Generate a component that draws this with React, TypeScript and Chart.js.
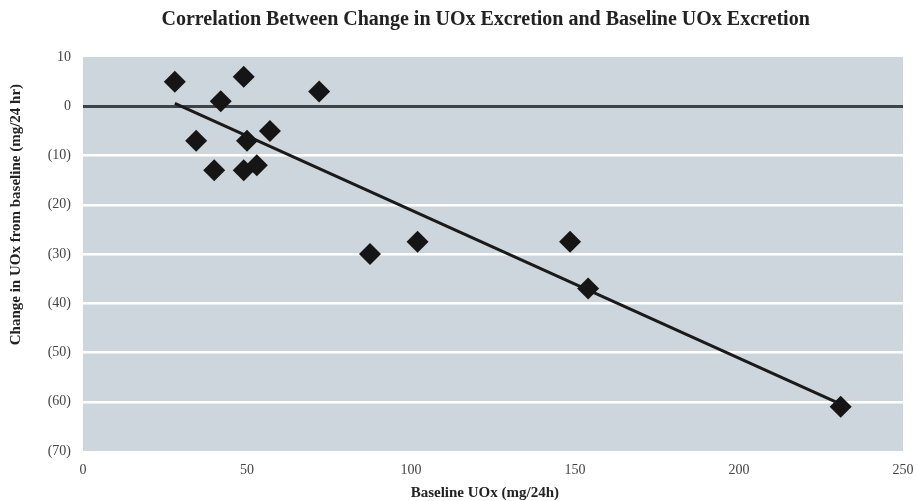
import React, { useEffect, useRef } from "react";
import { Chart, registerables } from "chart.js";

Chart.register(...registerables);

const baselineUOx = [28, 49, 42, 72, 34.5, 50, 57, 40, 49, 53, 87.5, 102, 148.5, 154, 231];
const changeUOx = [5, 6, 1, 3, -7, -7, -5, -13, -13, -12, -30, -27.5, -27.5, -37, -61];
const trendX = [28, 231];
const trendY = [0.6, -60.5];
const yTicks = [10, 0, -10, -20, -30, -40, -50, -60, -70];
const xTicks = [0, 50, 100, 150, 200, 250];

const chartTitle = "Correlation Between Change in UOx Excretion and Baseline UOx Excretion";
const xTitle = "Baseline UOx (mg/24h)";
const yTitle = "Change in UOx from baseline (mg/24 hr)";

const SERIF = "'Liberation Serif', 'Times New Roman', serif";

const bgPlugin = {
  id: "plotBg",
  beforeDraw(chart: any) {
    const { ctx, chartArea } = chart;
    ctx.save();
    ctx.fillStyle = "#cdd6dc";
    ctx.fillRect(chartArea.left, chartArea.top, chartArea.right - chartArea.left, chartArea.bottom - chartArea.top);
    ctx.restore();
  },
};

const textPlugin = {
  id: "texts",
  afterDraw(chart: any) {
    const { ctx, chartArea } = chart;
    const w = chartArea.right - chartArea.left;
    const h = chartArea.bottom - chartArea.top;
    ctx.save();
    ctx.fillStyle = "#222";
    ctx.textAlign = "center";
    ctx.textBaseline = "middle";
    ctx.font = `bold 20px ${SERIF}`;
    ctx.fillText(chartTitle, chartArea.left + w * 0.491, 20);
    ctx.font = `bold 15px ${SERIF}`;
    ctx.fillText(xTitle, chartArea.left + w * 0.49, 493);
    ctx.translate(16, chartArea.top + h * 0.40);
    ctx.rotate(-Math.PI / 2);
    ctx.font = `bold 15px ${SERIF}`;
    ctx.fillText(yTitle, 0, 0);
    ctx.restore();
  },
};

export default function App() {
  const ref = useRef<HTMLCanvasElement>(null);
  useEffect(() => {
    if (!ref.current) return;
    const chart = new Chart(ref.current, {
      type: "scatter",
      data: {
        datasets: [
          {
            type: "line",
            label: "Trend",
            data: trendX.map((x, i) => ({ x, y: trendY[i] })),
            borderColor: "#1a1a1a",
            borderWidth: 3,
            pointRadius: 0,
            fill: false,
            order: 2,
          } as any,
          {
            label: "Change",
            data: baselineUOx.map((x, i) => ({ x, y: changeUOx[i] })),
            pointStyle: "rectRot",
            pointRadius: 11,
            backgroundColor: "#151515",
            borderColor: "#151515",
            borderWidth: 0,
            order: 1,
          },
        ],
      },
      options: {
        responsive: false,
        animation: false,
        layout: { padding: { left: 0, right: 13, top: 57, bottom: 0 } },
        plugins: {
          legend: { display: false },
          tooltip: { enabled: false },
          title: { display: false },
        },
        scales: {
          x: {
            type: "linear",
            min: 0,
            max: 250,
            afterBuildTicks: (s: any) => {
              s.ticks = xTicks.map((v) => ({ value: v }));
            },
            afterFit: (s: any) => {
              s.height = 50;
              s.paddingLeft = 0;
              s.paddingRight = 0;
            },
            grid: { display: false, drawTicks: false },
            border: { display: false },
            ticks: { color: "#444", font: { family: SERIF, size: 14 }, padding: 11 },
          },
          y: {
            type: "linear",
            min: -70,
            max: 10,
            afterBuildTicks: (s: any) => {
              s.ticks = yTicks.map((v) => ({ value: v }));
            },
            afterFit: (s: any) => {
              s.width = 83;
              s.paddingTop = 0;
              s.paddingBottom = 0;
            },
            grid: {
              drawTicks: false,
              lineWidth: (c: any) => (c.tick?.value === 0 ? 3 : 2.5),
              color: (c: any) => {
                const v = c.tick?.value;
                if (v === 0) return "#3c4448";
                if (v === 10 || v === -70) return "rgba(0,0,0,0)";
                return "#ffffff";
              },
            },
            border: { display: false },
            ticks: {
              color: "#444",
              font: { family: SERIF, size: 14 },
              padding: 12,
              callback: (v: any) => (v < 0 ? `(${Math.abs(v)})` : `${v}`),
            },
          },
        },
      },
      plugins: [bgPlugin, textPlugin],
    });
    return () => chart.destroy();
  }, []);
  return (
    <div style={{ position: "fixed", left: 0, top: 0, width: 916, height: 501, background: "#fff" }}>
      <canvas ref={ref} width={916} height={501} style={{ display: "block" }} />
    </div>
  );
}
